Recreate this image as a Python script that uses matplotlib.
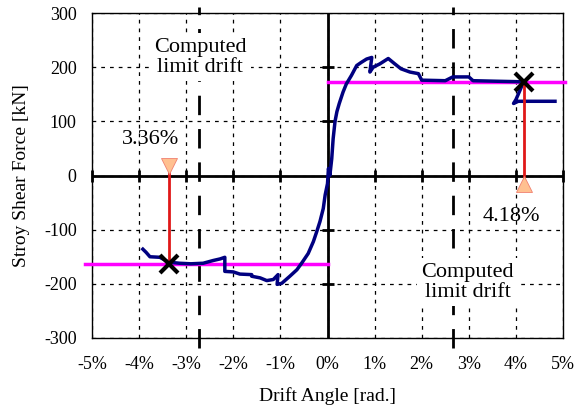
import numpy as np
import matplotlib
matplotlib.use("Agg")
import matplotlib.pyplot as plt

plt.rcParams['font.family'] = ['Liberation Serif', 'DejaVu Serif']
plt.rcParams['axes.unicode_minus'] = False

# story drift [%] and story shear [kN]
drift = [-3.92, -3.85, -3.77, -3.56, -3.37, -3.14, -2.9, -2.64, -2.43, -2.28,
         -2.18, -2.18, -2.0, -1.86, -1.61, -1.61, -1.43, -1.29, -1.15, -1.05,
         -1.07, -0.97, -0.8, -0.65, -0.55, -0.41, -0.3, -0.23, -0.16, -0.09,
         -0.05, 0.0, 0.02, 0.05, 0.09, 0.12, 0.16, 0.2, 0.25, 0.33, 0.4, 0.51,
         0.62, 0.72, 0.83, 0.94, 0.9, 0.97, 1.11, 1.29, 1.43, 1.56, 1.75, 1.93,
         2.0, 2.5, 2.66, 3.0, 3.09, 3.6, 4.16, 4.1, 4.0, 3.95, 4.05, 4.3, 4.83]
shear = [-136, -142, -150, -151, -160, -162, -163, -162, -157, -154,
         -151, -177, -178, -182, -183, -186, -189, -194, -192, -183,
         -201, -199, -186, -174, -162, -144, -122, -104, -85, -61,
         -36, -15, 13, 0, 31, 68, 100, 118, 133, 154, 169, 185,
         203, 209, 215, 218, 191, 200, 206, 216, 206, 197, 191, 188,
         176, 175, 182, 182, 175, 174, 173, 160, 140, 133, 137, 137, 137]

# limit points
lim_drift = [-3.36, 4.18]
lim_shear = [-163, 173]
lim_labels = ['3.36%', '4.18%']
comp_limit = [-2.73, 2.66]

xticks = [-5, -4, -3, -2, -1, 0, 1, 2, 3, 4, 5]
xlabels = ['-5%', '-4%', '-3%', '-2%', '-1%', '0%', '1%', '2%', '3%', '4%', '5%']
yticks = [-300, -200, -100, 0, 100, 200, 300]

fig = plt.figure(figsize=(5.8, 4.05), dpi=100)
ax = fig.add_axes([92/580, 1-338/405, 471/580, 325/405])
ax.set_xlim(-5, 5)
ax.set_ylim(-300, 300)

ax.set_xticks(xticks)
ax.set_xticklabels(xlabels)
ax.set_yticks(yticks)
ax.tick_params(length=0, labelsize=13)
ax.tick_params(axis='x', pad=13)
ax.tick_params(axis='y', pad=11)
for s in ax.spines.values():
    s.set_linewidth(1.0)

ax.grid(True, color='k', lw=0.9, linestyle=(0, (3, 4)))

# zero axes with small cross ticks
ax.axhline(0, color='k', lw=2, zorder=3)
ax.axvline(0, color='k', lw=2, zorder=3)
ax.plot(xticks, np.zeros(len(xticks)), '|', color='k', ms=8, mew=2, zorder=3, clip_on=False)
ax.plot(np.zeros(4), [-200, -100, 100, 200], '_', color='k', ms=8, mew=2, zorder=3)

# computed limit drift lines
for xc in comp_limit:
    ax.axvline(xc, ymin=-0.03, ymax=1.02, color='k', lw=2, dashes=(7, 5),
               clip_on=False, zorder=2)

# yield level lines
ax.plot([-5.15, 0], [lim_shear[0], lim_shear[0]], color='#ff00ff', lw=2.5, zorder=4, clip_on=False)
ax.plot([0, 5.05], [lim_shear[1], lim_shear[1]], color='#ff00ff', lw=2.5, zorder=4, clip_on=False)

ax.plot(drift, shear, color='#000080', lw=2.5, zorder=5)

# limit markers
ax.plot([lim_drift[0], lim_drift[0]], [lim_shear[0], 8], color='#e01818', lw=2, zorder=6)
ax.plot([lim_drift[1], lim_drift[1]], [lim_shear[1], -8], color='#e01818', lw=2, zorder=6)
ax.plot(lim_drift[0], 18, 'v', color='#ffc090', ms=11, mec='#f08070', mew=0.6, zorder=7)
ax.plot(lim_drift[1], -16, '^', color='#ffc090', ms=11, mec='#f08070', mew=0.6, zorder=7)
ax.plot(lim_drift, lim_shear, 'x', color='k', ms=13, mew=3, zorder=8)

ax.text(-3.75, 66, lim_labels[0], fontsize=16, ha='center', va='center', zorder=9)
ax.text(3.9, -76, lim_labels[1], fontsize=16, ha='center', va='center', zorder=9)

box = dict(facecolor='white', edgecolor='none', pad=3)
ax.text(-2.7, 218, 'Computed\nlimit drift', fontsize=16, ha='center', va='center',
        linespacing=1.1, bbox=box, zorder=9)
ax.text(2.98, -197, 'Computed\nlimit drift', fontsize=16, ha='center', va='center',
        linespacing=1.1, bbox=box, zorder=9)

ax.set_xlabel('Drift Angle [rad.]', fontsize=14, labelpad=10)
ax.set_ylabel('Stroy Shear Force [kN]', fontsize=14, labelpad=10)

fig.savefig('out.png', dpi=100)
